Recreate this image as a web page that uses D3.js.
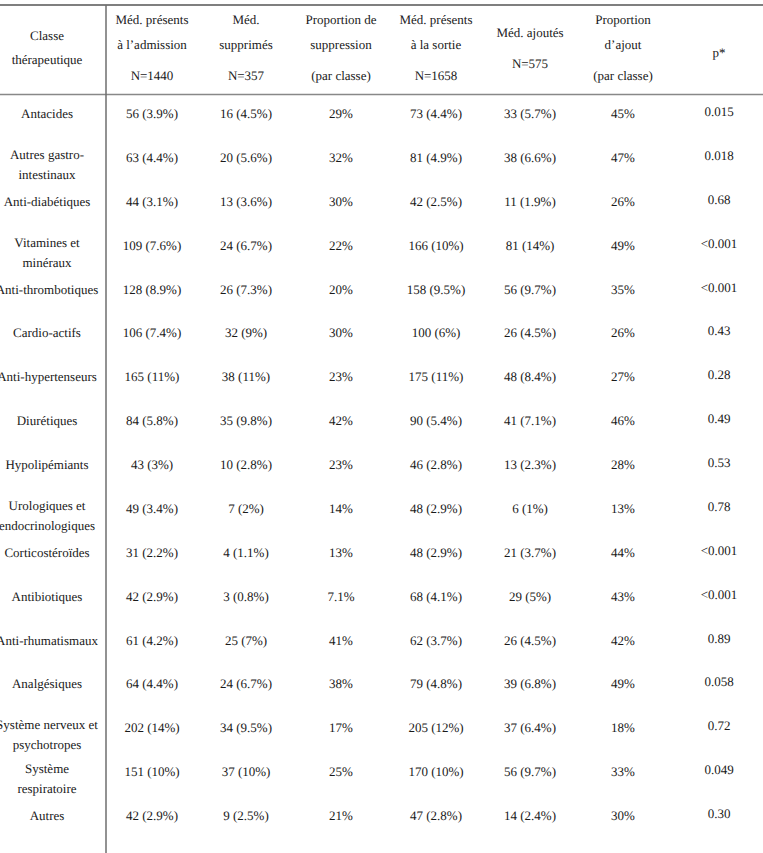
<!DOCTYPE html>
<html>
<head>
<meta charset="utf-8">
<script src="https://cdn.jsdelivr.net/npm/d3@7"></script>
<style>
  html, body { margin: 0; padding: 0; background: #fff; }
  svg { display: block; }
</style>
</head>
<body>
<div id="chart"></div>
<script>
// ---- data ----
const classes = [
  ["Antacides"],
  ["Autres gastro-", "intestinaux"],
  ["Anti-diabétiques"],
  ["Vitamines et", "minéraux"],
  ["Anti-thrombotiques"],
  ["Cardio-actifs"],
  ["Anti-hypertenseurs"],
  ["Diurétiques"],
  ["Hypolipémiants"],
  ["Urologiques et", "endocrinologiques"],
  ["Corticostéroïdes"],
  ["Antibiotiques"],
  ["Anti-rhumatismaux"],
  ["Analgésiques"],
  ["Système nerveux et", "psychotropes"],
  ["Système", "respiratoire"],
  ["Autres"]
];
const admN   = [56, 63, 44, 109, 128, 106, 165, 84, 43, 49, 31, 42, 61, 64, 202, 151, 42];
const admPct = [3.9, 4.4, 3.1, 7.6, 8.9, 7.4, 11, 5.8, 3, 3.4, 2.2, 2.9, 4.2, 4.4, 14, 10, 2.9];
const supN   = [16, 20, 13, 24, 26, 32, 38, 35, 10, 7, 4, 3, 25, 24, 34, 37, 9];
const supPct = [4.5, 5.6, 3.6, 6.7, 7.3, 9, 11, 9.8, 2.8, 2, 1.1, 0.8, 7, 6.7, 9.5, 10, 2.5];
const propSup = [29, 32, 30, 22, 20, 30, 23, 42, 23, 14, 13, 7.1, 41, 38, 17, 25, 21];
const sortN   = [73, 81, 42, 166, 158, 100, 175, 90, 46, 48, 48, 68, 62, 79, 205, 170, 47];
const sortPct = [4.4, 4.9, 2.5, 10, 9.5, 6, 11, 5.4, 2.8, 2.9, 2.9, 4.1, 3.7, 4.8, 12, 10, 2.8];
const ajN   = [33, 38, 11, 81, 56, 26, 48, 41, 13, 6, 21, 29, 26, 39, 37, 56, 14];
const ajPct = [5.7, 6.6, 1.9, 14, 9.7, 4.5, 8.4, 7.1, 2.3, 1, 3.7, 5, 4.5, 6.8, 6.4, 9.7, 2.4];
const propAj = [45, 47, 26, 49, 35, 26, 27, 46, 28, 13, 44, 43, 42, 49, 18, 33, 30];
const pValues = ["0.015", "0.018", "0.68", "<0.001", "<0.001", "0.43", "0.28", "0.49", "0.53", "0.78", "<0.001", "<0.001", "0.89", "0.058", "0.72", "0.049", "0.30"];

const columnKeys = ["classe", "adm", "sup", "propSup", "sort", "aj", "propAj", "p"];
const headers = [
  ["Classe", "thérapeutique"],
  ["Méd. présents", "à l’admission", "N=1440"],
  ["Méd.", "supprimés", "N=357"],
  ["Proportion de", "suppression", "(par classe)"],
  ["Méd. présents", "à la sortie", "N=1658"],
  ["Méd. ajoutés", "N=575"],
  ["Proportion", "d’ajout", "(par classe)"],
  ["p*"]
];

// ---- layout ----
const W = 763, H = 853;
const FONT = "'Liberation Serif', 'Times New Roman', serif";
const svg = d3.select("#chart").append("svg")
  .attr("width", W).attr("height", H)
  .attr("font-family", FONT)
  .attr("font-size", 13)
  .attr("text-rendering", "geometricPrecision")
  .attr("fill", "#1a1a1a");

const colCenters = [47, 152, 246, 341, 436, 530, 623, 719];
const x = d3.scaleOrdinal().domain(columnKeys).range(colCenters);
const y = d3.scaleLinear().domain([0, classes.length - 1]).range([113.5, 815.5]);

const fmt = (n, p) => `${n} (${p}%)`;
const rows = classes.map((c, i) => ({
  classe: c,
  adm: fmt(admN[i], admPct[i]),
  sup: fmt(supN[i], supPct[i]),
  propSup: propSup[i] + "%",
  sort: fmt(sortN[i], sortPct[i]),
  aj: fmt(ajN[i], ajPct[i]),
  propAj: propAj[i] + "%",
  p: pValues[i]
}));

// rules
svg.append("line").attr("x1", 0).attr("x2", W).attr("y1", 5).attr("y2", 5)
  .attr("stroke", "#555").attr("stroke-width", 1.5);
svg.append("line").attr("x1", 0).attr("x2", W).attr("y1", 94.5).attr("y2", 94.5)
  .attr("stroke", "#888").attr("stroke-width", 1.5);
svg.append("line").attr("x1", 106).attr("x2", 106).attr("y1", 5).attr("y2", H)
  .attr("stroke", "#6e6e6e").attr("stroke-width", 1.5);

// header
const headerY = {3: [19, 44, 75], 2: [32, 63], 1: [52]};
const headerYClasse = [35, 59];
headers.forEach((lines, ci) => {
  const ys = ci === 0 ? headerYClasse : headerY[lines.length];
  lines.forEach((t, li) => {
    svg.append("text")
      .attr("x", x(columnKeys[ci]))
      .attr("y", ys[li])
      .attr("dy", "0.35em")
      .attr("text-anchor", "middle")
      .text(t);
  });
});

// body
const g = svg.append("g");
rows.forEach((r, i) => {
  const yc = y(i);
  const lines = r.classe;
  lines.forEach((t, li) => {
    const yy = lines.length === 1 ? yc : yc - 3 + li * 20;
    g.append("text")
      .attr("x", x("classe"))
      .attr("y", yy)
      .attr("dy", "0.35em")
      .attr("text-anchor", "middle")
      .text(t);
  });
  columnKeys.slice(1).forEach(k => {
    g.append("text")
      .attr("x", x(k))
      .attr("y", k === "p" ? yc - 2 : yc)
      .attr("dy", "0.35em")
      .attr("text-anchor", "middle")
      .text(r[k]);
  });
});
</script>
</body>
</html>
